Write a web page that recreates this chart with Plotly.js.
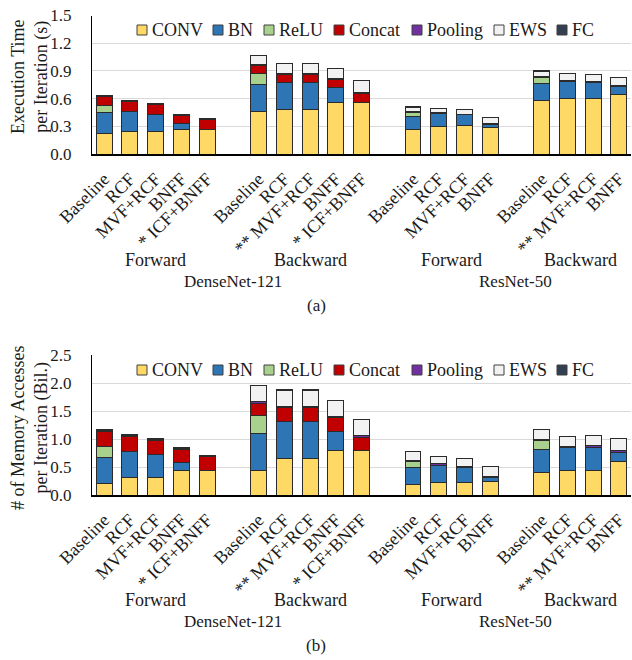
<!DOCTYPE html>
<html>
<head>
<meta charset="utf-8">
<script src="https://cdn.plot.ly/plotly-3.0.1.min.js"></script>
<style>html,body{margin:0;padding:0;background:#fff;}#chart{width:632px;height:660px;}</style>
</head>
<body>
<div id="chart"></div>
<script>
// ---------- data ----------
const seriesNames = ["CONV", "BN", "ReLU", "Concat", "Pooling", "EWS", "FC"];
const seriesColors = ["#FFD966", "#2E75B6", "#A9D18E", "#C00000", "#7030A0", "#F2F2F2", "#333F50"];

const opLabels = ["Baseline", "RCF", "MVF+RCF", "BNFF", "* ICF+BNFF",
                  "Baseline", "RCF", "** MVF+RCF", "BNFF", "* ICF+BNFF",
                  "Baseline", "RCF", "MVF+RCF", "BNFF",
                  "Baseline", "RCF", "** MVF+RCF", "BNFF"];
const phaseLabels = ["Forward", "Backward", "Forward", "Backward"];
const phaseSizes = [5, 5, 4, 4];
const modelLabels = ["DenseNet-121", "ResNet-50"];
const modelPhaseCount = [2, 2];
const yTitleA = "Execution Time<br>per Iteration (s)";
const yTitleB = "# of Memory Accesses<br>per Iteration (Bil.)";

// (a) execution time per iteration (s)
const timeCONV    = [0.225, 0.24, 0.24, 0.265, 0.265, 0.46, 0.485, 0.485, 0.555, 0.555, 0.27, 0.30, 0.31, 0.29, 0.58, 0.60, 0.597, 0.647];
const timeBN      = [0.225, 0.22, 0.19, 0.06, 0.005, 0.29, 0.29, 0.29, 0.165, 0.005, 0.14, 0.14, 0.115, 0.03, 0.18, 0.185, 0.175, 0.08];
const timeReLU    = [0.075, 0, 0, 0, 0, 0.12, 0, 0, 0, 0, 0.04, 0, 0, 0, 0.07, 0, 0, 0];
const timeConcat  = [0.095, 0.105, 0.105, 0.09, 0.10, 0.085, 0.09, 0.09, 0.085, 0.095, 0, 0, 0, 0, 0, 0, 0, 0];
const timePooling = [0.008, 0.01, 0.01, 0.01, 0.01, 0.012, 0.01, 0.01, 0.01, 0.012, 0.008, 0.008, 0.008, 0.01, 0.008, 0.01, 0.01, 0.012];
const timeEWS     = [0, 0, 0, 0, 0, 0.10, 0.105, 0.105, 0.11, 0.13, 0.05, 0.045, 0.05, 0.065, 0.06, 0.075, 0.075, 0.085];
const timeFC      = [0.005, 0.005, 0.005, 0.005, 0.005, 0, 0, 0, 0, 0, 0.004, 0.004, 0.004, 0.004, 0.003, 0.003, 0.003, 0.003];

// (b) memory accesses per iteration (billions)
const memCONV    = [0.21, 0.31, 0.31, 0.445, 0.44, 0.44, 0.655, 0.655, 0.79, 0.79, 0.19, 0.22, 0.22, 0.245, 0.405, 0.43, 0.44, 0.595];
const memBN      = [0.465, 0.465, 0.405, 0.13, 0.005, 0.655, 0.66, 0.66, 0.35, 0.005, 0.31, 0.315, 0.27, 0.065, 0.405, 0.41, 0.415, 0.16];
const memReLU    = [0.20, 0, 0, 0, 0, 0.32, 0, 0, 0, 0, 0.105, 0, 0, 0, 0.17, 0, 0, 0];
const memConcat  = [0.26, 0.275, 0.26, 0.235, 0.24, 0.22, 0.24, 0.24, 0.24, 0.24, 0, 0, 0, 0, 0, 0, 0, 0];
const memPooling = [0.02, 0.015, 0.02, 0.02, 0.015, 0.035, 0.03, 0.03, 0.03, 0.03, 0.02, 0.02, 0.02, 0.025, 0.02, 0.035, 0.03, 0.035];
const memEWS     = [0, 0, 0, 0, 0, 0.29, 0.29, 0.29, 0.28, 0.285, 0.155, 0.125, 0.135, 0.175, 0.17, 0.17, 0.175, 0.215];
const memFC      = [0.01, 0.01, 0.01, 0.01, 0.008, 0, 0.01, 0.01, 0, 0, 0.005, 0.005, 0.005, 0.005, 0.005, 0.005, 0.005, 0.005];

const timeSeries = [timeCONV, timeBN, timeReLU, timeConcat, timePooling, timeEWS, timeFC];
const memSeries  = [memCONV, memBN, memReLU, memConcat, memPooling, memEWS, memFC];

// ---------- category slots (one empty slot between phase groups) ----------
const xPos = [];
const phaseCenters = [];
let slot = 0;
phaseSizes.forEach(n => {
  const start = slot;
  for (let i = 0; i < n; i++) xPos.push(slot++);
  phaseCenters.push((start + slot - 1) / 2);
  slot++;
});
const modelCenters = [];
let p = 0;
modelPhaseCount.forEach(c => {
  const firstIdx = phaseSizes.slice(0, p).reduce((a, b) => a + b, 0);
  const lastIdx = phaseSizes.slice(0, p + c).reduce((a, b) => a + b, 0) - 1;
  modelCenters.push((xPos[firstIdx] + xPos[lastIdx]) / 2);
  p += c;
});

const FONT = "Liberation Serif, Times New Roman, serif";
const TXT = "#1a1a1a";
const W = 632, H = 660;

const traces = [];
function addTraces(series, xa, ya) {
  series.forEach((vals, i) => {
    traces.push({
      type: "bar", x: xPos, y: vals, name: seriesNames[i],
      xaxis: xa, yaxis: ya, width: 0.62, showlegend: false,
      marker: { color: seriesColors[i], line: { color: "#2b2b2b", width: 1 } },
      hoverinfo: "skip"
    });
  });
}
addTraces(timeSeries, "x", "y");
addTraces(memSeries, "x2", "y2");

const xDomain = [92 / W, 631 / W];
const topDom = [1 - 154 / H, 1 - 15.5 / H];
const botDom = [1 - 495 / H, 1 - 355 / H];
const xRange = [-0.47, xPos[xPos.length - 1] + 0.47];

function xAxis(anchor) {
  return {
    domain: xDomain, anchor: anchor, range: xRange,
    tickvals: xPos, ticktext: opLabels, tickangle: -45,
    tickfont: { family: FONT, size: 18, color: TXT },
    showline: true, linecolor: "#000", linewidth: 1.5,
    showgrid: false, zeroline: false, ticks: "", ticklabelstandoff: 6
  };
}
function yAxis(anchor, dom, rng, dt) {
  return {
    domain: dom, anchor: anchor, range: rng, dtick: dt, tick0: 0, tickformat: ".1f",
    tickfont: { family: FONT, size: 17, color: TXT },
    showline: true, linecolor: "#000", linewidth: 1,
    showgrid: true, gridcolor: "#d9d9d9", gridwidth: 1, zeroline: false,
    ticks: "", ticklabelstandoff: 16
  };
}

const annotations = [];
const shapes = [];
function addLabels(rowY, modelY, capY, cap, xref, yTitle, yTitleCy) {
  phaseLabels.forEach((t, i) => annotations.push({
    text: t, x: phaseCenters[i], xref: xref, y: 1 - rowY / H, yref: "paper",
    showarrow: false, font: { family: FONT, size: 18, color: TXT }, xanchor: "center", yanchor: "middle"
  }));
  modelLabels.forEach((t, i) => annotations.push({
    text: t, x: modelCenters[i], xref: xref, y: 1 - modelY / H, yref: "paper",
    showarrow: false, font: { family: FONT, size: 17, color: TXT }, xanchor: "center", yanchor: "middle"
  }));
  annotations.push({
    text: cap, x: 316 / W, xref: "paper", y: 1 - capY / H, yref: "paper",
    showarrow: false, font: { family: FONT, size: 17, color: TXT }, xanchor: "center", yanchor: "middle"
  });
  annotations.push({
    text: yTitle, textangle: -90, x: 30 / W, xref: "paper", y: 1 - yTitleCy / H, yref: "paper",
    showarrow: false, font: { family: FONT, size: 18, color: TXT }, xanchor: "center", yanchor: "middle"
  });
}
addLabels(260, 281, 305, "(a)", "x", yTitleA, 77);
addLabels(600, 621, 645, "(b)", "x2", yTitleB, 428);

// legend rows (drawn inside each plot area)
const legSqX = [137, 213, 264, 334, 412, 494, 557];
function addLegend(cy) {
  seriesNames.forEach((nm, i) => {
    shapes.push({
      type: "rect", xref: "paper", yref: "paper",
      x0: legSqX[i] / W, x1: (legSqX[i] + 10) / W,
      y0: 1 - (cy + 5) / H, y1: 1 - (cy - 5) / H,
      fillcolor: seriesColors[i], line: { color: "#404040", width: 1 }
    });
    annotations.push({
      text: nm, x: (legSqX[i] + 13) / W, xref: "paper", y: 1 - cy / H, yref: "paper",
      showarrow: false, xanchor: "left", yanchor: "middle",
      font: { family: FONT, size: 18, color: TXT }
    });
  });
}
addLegend(30);
addLegend(370);

const layout = {
  width: W, height: H,
  margin: { l: 0, r: 0, t: 0, b: 0 },
  paper_bgcolor: "#fff", plot_bgcolor: "#fff",
  barmode: "stack",
  showlegend: false,
  xaxis: xAxis("y"),
  yaxis: yAxis("x", topDom, [0, 1.5], 0.3),
  xaxis2: xAxis("y2"),
  yaxis2: yAxis("x2", botDom, [0, 2.5], 0.5),
  annotations: annotations,
  shapes: shapes
};

Plotly.newPlot("chart", traces, layout, { staticPlot: true, displayModeBar: false });
</script>
</body>
</html>
